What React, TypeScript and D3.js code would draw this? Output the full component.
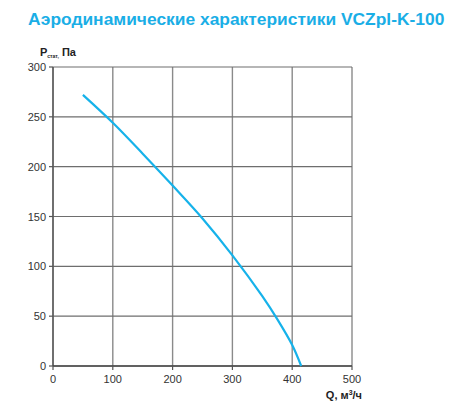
import * as d3 from "d3";

const flowQ = [50, 100, 150, 200, 250, 300, 350, 375, 400, 415];
const pressureP = [272, 244, 213, 181, 148, 111, 70, 47, 21, 0];
const xTicks = [0, 100, 200, 300, 400, 500];
const yTicks = [0, 50, 100, 150, 200, 250, 300];

const W = 450;
const H = 414;
const m = { left: 53, right: 352, top: 67, bottom: 366 };

export default function App() {
  const x = d3.scaleLinear().domain([0, 500]).range([m.left, m.right]);
  const y = d3.scaleLinear().domain([0, 300]).range([m.bottom, m.top]);

  const pts = flowQ.map((q, i) => [q, pressureP[i]] as [number, number]);
  const line = d3
    .line<[number, number]>()
    .x((d) => x(d[0]))
    .y((d) => y(d[1]))
    .curve(d3.curveCatmullRom.alpha(0.5));

  const font = "Liberation Sans, Arial, sans-serif";

  return (
    <svg
      width={W}
      height={H}
      style={{ position: "absolute", left: 0, top: 0, background: "#fff" }}
      fontFamily={font}
    >
      <text x={28} y={25} fontSize={17.4} fontWeight="bold" fill="#1aaee6">
        Аэродинамические характеристики VCZpl-K-100
      </text>

      {/* grid */}
      {xTicks.map((t) => (
        <line
          key={"gx" + t}
          x1={x(t)}
          x2={x(t)}
          y1={m.top}
          y2={m.bottom}
          stroke="#8a8a8a"
          strokeWidth={1.4}
        />
      ))}
      {yTicks.map((t) => (
        <line
          key={"gy" + t}
          x1={m.left}
          x2={m.right}
          y1={y(t)}
          y2={y(t)}
          stroke="#6e6e6e"
          strokeWidth={1.2}
        />
      ))}

      {/* axes */}
      <line x1={m.left} x2={m.left} y1={m.top} y2={m.bottom} stroke="#555" strokeWidth={1.4} />
      <line x1={m.left} x2={m.right} y1={m.bottom} y2={m.bottom} stroke="#444" strokeWidth={1.4} />
      {yTicks.map((t) => (
        <g key={"ty" + t}>
          <line x1={m.left - 4} x2={m.left} y1={y(t)} y2={y(t)} stroke="#555" strokeWidth={1.2} />
          <text x={46} y={y(t) + 4} fontSize={11} fill="#333" textAnchor="end">
            {t}
          </text>
        </g>
      ))}
      {xTicks.map((t) => (
        <g key={"tx" + t}>
          <line x1={x(t)} x2={x(t)} y1={m.bottom} y2={m.bottom + 4} stroke="#555" strokeWidth={1.2} />
          <text x={x(t)} y={383} fontSize={11} fill="#333" textAnchor="middle">
            {t}
          </text>
        </g>
      ))}

      {/* curve */}
      <path d={line(pts) ?? ""} fill="none" stroke="#16b2ea" strokeWidth={2.2} />

      {/* axis titles */}
      <text x={40} y={56} fontSize={11} fontWeight="bold" fill="#222">
        P
        <tspan fontSize={5} dy={2}>стат,</tspan>
        <tspan dy={-2}> Па</tspan>
      </text>
      <text x={362} y={399} fontSize={11} fontWeight="bold" fill="#222" textAnchor="end">
        Q, м
        <tspan fontSize={7} dy={-4}>3</tspan>
        <tspan dy={4}>/ч</tspan>
      </text>
    </svg>
  );
}
